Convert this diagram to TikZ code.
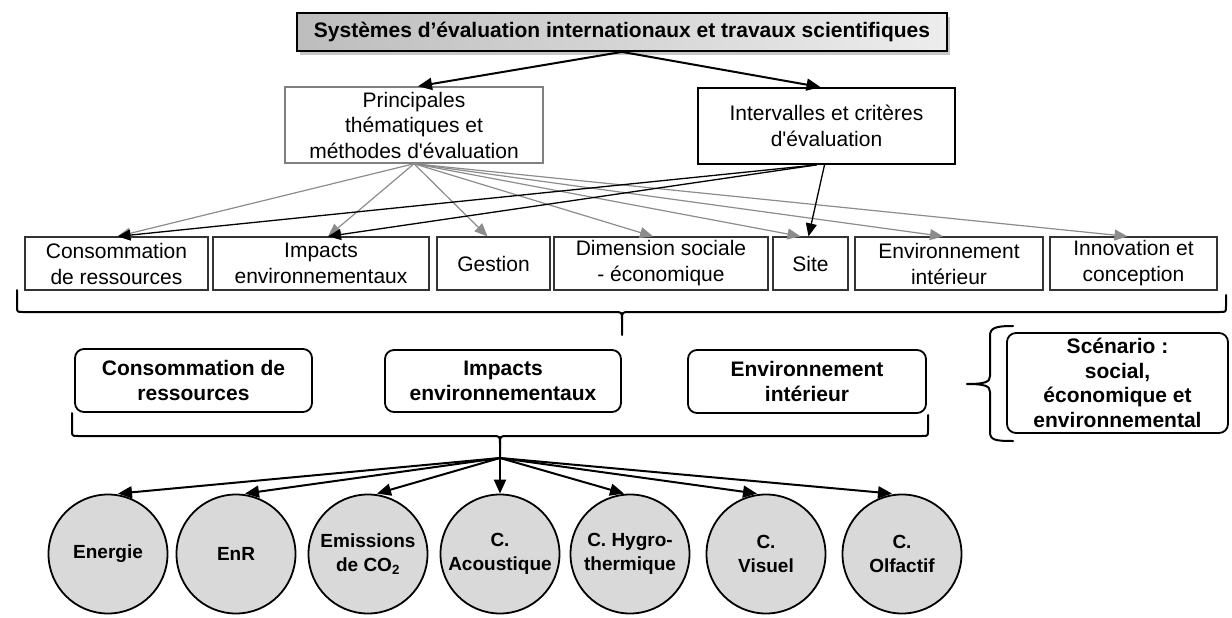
\documentclass[tikz,border=0pt]{standalone}
\usepackage{fontspec}
\setmainfont{Liberation Sans}
\usetikzlibrary{arrows.meta,shadows}

\definecolor{titleL}{HTML}{BDBDBD}
\definecolor{titleR}{HTML}{EDEDED}
\definecolor{princgray}{HTML}{808080}
\definecolor{linegray}{HTML}{8C8C8C}
\definecolor{circfill}{HTML}{D9D9D9}

\begin{document}
\begin{tikzpicture}[x=1pt,y=-1pt,
  titlebox/.style={draw, line width=1.8pt, inner sep=0pt,
    minimum width=650pt, minimum height=38pt,
    left color=titleL, right color=titleR,
    drop shadow={shadow xshift=3pt, shadow yshift=-4pt, fill=black, opacity=0.22},
    font=\bfseries\fontsize{21}{25}\selectfont},
  topbox/.style={draw, inner sep=0pt, align=center,
    minimum height=76pt, font=\fontsize{21}{25.5}\selectfont},
  rowbox/.style={draw=black!80, line width=1.2pt, inner sep=0pt, align=center,
    minimum height=53pt, font=\fontsize{21}{26}\selectfont},
  tierbox/.style={draw, line width=1.8pt, rounded corners=9pt, inner sep=0pt,
    align=center, font=\bfseries\fontsize{21}{25}\selectfont},
  circ/.style={circle, draw, line width=1.8pt, fill=circfill, inner sep=0pt,
    minimum size=119pt, align=center, font=\bfseries\fontsize{19}{24}\selectfont},
  bigarrow/.style={line width=2pt, -{Triangle[length=14pt,width=12pt]}},
  thinarrow/.style={line width=1.3pt, -{Triangle[length=13pt,width=11pt]}},
  grayarrow/.style={draw=linegray, line width=1.2pt,
    -{Triangle[length=13pt,width=11pt,fill=linegray]}},
  brace/.style={line width=2pt, line cap=round, line join=round}
]
\useasboundingbox (0,0) rectangle (1232,618);

% --- top: sources and the two evaluation branches
\node[titlebox] (sys) at (622,32)
  {Systèmes d’évaluation internationaux et travaux scientifiques};
\node[topbox, draw=princgray, line width=1.5pt, minimum width=258pt] (pri) at (414,125)
  {Principales\\thématiques et\\méthodes d\textquotesingle évaluation};
\node[topbox, line width=1.8pt, minimum width=257pt] (int) at (826.5,126)
  {Intervalles et critères\\d\textquotesingle évaluation};

\draw[bigarrow] (sys.south) -- ([xshift=4pt]pri.north);
\draw[bigarrow] (sys.south) -- ([xshift=-6pt]int.north);

% --- row of themes
\node[rowbox, minimum width=183pt] (c1) at (116.5,263.5) {Consommation\\de ressources};
\node[rowbox, minimum width=216pt] (i1) at (321,263.5) {Impacts\\environnementaux};
\node[rowbox, minimum width=113pt] (ge) at (493.5,263.5) {Gestion};
\node[rowbox, minimum width=214pt] (di) at (661,263.5) {Dimension sociale\\- économique};
\node[rowbox, minimum width=75pt]  (si) at (810.5,263.5) {Site};
\node[rowbox, minimum width=188pt] (en) at (949,263.5) {Environnement\\intérieur};
\node[rowbox, minimum width=167pt] (in) at (1133.5,263.5) {Innovation et\\conception};

\foreach \t/\s in {c1/1, i1/7, ge/-6, di/-8, si/-10, en/-6, in/-6}
  \draw[grayarrow] (pri.south) -- ([xshift=\s pt]\t.north);

\draw[thinarrow] ([xshift=-10pt]int.south) -- ([xshift=1pt]c1.north);
\draw[thinarrow] ([xshift=-10pt]int.south) -- ([xshift=7pt]i1.north);
\draw[thinarrow] ([xshift=-2pt]int.south) -- ([xshift=-2pt]si.north);

% --- brace gathering the row
\draw[brace] (17,290) -- (17,306) .. controls (17,312) .. (23,312) -- (614,312)
  .. controls (622,312) .. (622,320) -- (622,335);
\draw[brace] (622,320) .. controls (622,312) .. (630,312) -- (1220,312)
  .. controls (1226,312) .. (1226,306) -- (1226,295);

% --- retained themes
\node[tierbox, minimum width=237pt, minimum height=63pt] (c2) at (193.5,380.5)
  {Consommation de\\ressources};
\node[tierbox, minimum width=236pt, minimum height=62pt] (i2) at (503,381)
  {Impacts\\environnementaux};
\node[tierbox, minimum width=238pt, minimum height=63pt] (e2) at (807,381.5)
  {Environnement\\intérieur};
\node[tierbox, minimum width=221pt, minimum height=100pt,
  font=\bfseries\fontsize{21}{24.5}\selectfont] (sc) at (1117.5,383)
  {Scénario :\\social,\\économique et\\environnemental};

% brace under the retained themes
\draw[brace] (72,413) -- (72,430) .. controls (72,436) .. (78,436) -- (492,436)
  .. controls (500,436) .. (500,444) -- (500,458);
\draw[brace] (500,444) .. controls (500,436) .. (508,436) -- (922,436)
  .. controls (928,436) .. (928,430) -- (928,415);
\coordinate (fan) at (500,458);

% brace in front of the scenario
\draw[brace] (1013,326) .. controls (995,326) and (990,328) .. (990,336) -- (990,376)
  .. controls (990,382) and (985,384) .. (967,384);
\draw[brace] (967,384) .. controls (985,384) and (990,386) .. (990,392) -- (990,432)
  .. controls (990,440) and (995,441) .. (1013,441);

% --- indicators
\node[circ] (k1) at (108,554) {Energie};
\node[circ] (k2) at (236,554) {EnR};
\node[circ] (k3) at (368,554) {Emissions\\de CO\textsubscript{2}};
\node[circ] (k4) at (500,554) {C.\\Acoustique};
\node[circ] (k5) at (630,554) {C. Hygro-\\thermique};
\node[circ] (k6) at (766,554) {C.\\Visuel};
\node[circ] (k7) at (902,554) {C.\\Olfactif};

\foreach \t/\s in {k1/10, k2/9, k3/9, k4/0, k5/-6, k6/-9, k7/-10}
  \draw[bigarrow] (fan) -- ([xshift=\s pt]\t.north);

\end{tikzpicture}
\end{document}
